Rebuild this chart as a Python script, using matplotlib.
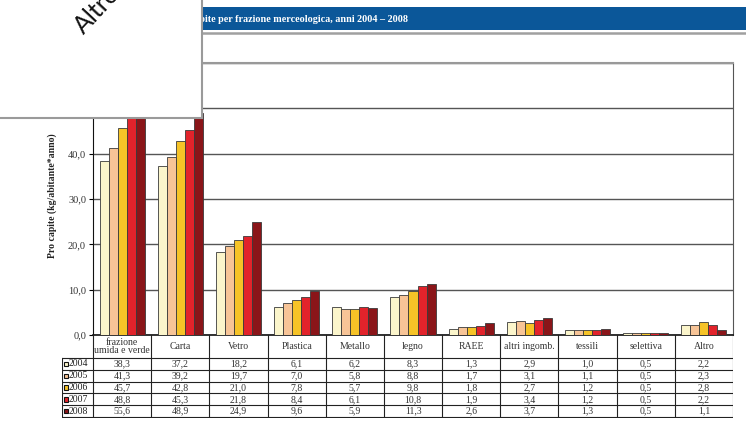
import numpy as np
import matplotlib
matplotlib.use("Agg")
import matplotlib.pyplot as plt
from matplotlib.patches import Rectangle
from matplotlib.ticker import FuncFormatter

# data (kg/abitante*anno)
categorie = ["frazione\numida e verde", "Carta", "Vetro", "Plastica", "Metallo", "legno",
             "RAEE", "altri ingomb.", "tessili", "selettiva", "Altro"]
anni = ["2004", "2005", "2006", "2007", "2008"]
v2004 = [38.3, 37.2, 18.2, 6.1, 6.2, 8.3, 1.3, 2.9, 1.0, 0.5, 2.2]
v2005 = [41.3, 39.2, 19.7, 7.0, 5.8, 8.8, 1.7, 3.1, 1.1, 0.5, 2.3]
v2006 = [45.7, 42.8, 21.0, 7.8, 5.7, 9.8, 1.8, 2.7, 1.2, 0.5, 2.8]
v2007 = [48.8, 45.3, 21.8, 8.4, 6.1, 10.8, 1.9, 3.4, 1.2, 0.5, 2.2]
v2008 = [55.6, 48.9, 24.9, 9.6, 5.9, 11.3, 2.6, 3.7, 1.3, 0.5, 1.1]
serie = [v2004, v2005, v2006, v2007, v2008]
colori = ["#fbf5cb", "#f7c497", "#f6c327", "#e2232b", "#8a1519"]

W, H = 746, 430
serif = "Liberation Serif"

def fx(px):
    return px / W

def fy(py):
    return 1 - py / H

fig = plt.figure(figsize=(W / 100, H / 100), dpi=100)

# main bar chart
ax = fig.add_axes([fx(93), fy(335), (733 - 93) / W, (335 - 63) / H])
x = np.arange(len(categorie))
bw = 0.155
for j, vals in enumerate(serie):
    ax.bar(x + (j - 2) * bw, vals, width=bw, color=colori[j],
           edgecolor="#3a3a3a", linewidth=0.6, zorder=3)

ax.set_xlim(-0.5, len(categorie) - 0.5)
ax.set_ylim(0, 60)
ax.set_yticks(np.arange(0, 61, 10))
ax.yaxis.set_major_formatter(FuncFormatter(lambda v, p: f"{v:.1f}".replace(".", ",")))
ax.set_xticks([])
ax.tick_params(axis="y", length=3, width=0.8, pad=2, labelsize=7.5, labelcolor="#333333")
for lbl in ax.get_yticklabels():
    lbl.set_fontfamily(serif)
ax.yaxis.grid(True, color="#555555", linewidth=1.0, zorder=0)
ax.spines["left"].set_color("#111111")
ax.spines["bottom"].set_color("#111111")
ax.spines["bottom"].set_linewidth(1.2)
ax.spines["top"].set_color("#999999")
ax.spines["top"].set_linewidth(1.5)
ax.spines["right"].set_color("#555555")

fig.text(fx(52), fy(196), "Pro capite (kg/abitante*anno)", rotation=90,
         ha="center", va="center", fontsize=7, fontweight="bold",
         family=serif, color="#222222")

# data table under the chart
row_top = 23
row_h = 11.8
tab = fig.add_axes([fx(62), fy(418), (733 - 62) / W, (418 - 335) / H])
left_edge = -0.5 - 31 / 58.18
tab.set_xlim(left_edge, len(categorie) - 0.5)
tab.set_ylim(83, 0)
tab.axis("off")
line_kw = dict(color="#222222", linewidth=0.8)
bottom = row_top + row_h * len(anni)
tab.plot([left_edge, left_edge], [row_top, bottom], **line_kw)
for b in np.arange(-0.5, len(categorie), 1.0):
    tab.plot([b, b], [0, bottom], **line_kw)
for k in range(len(anni) + 1):
    yy = row_top + k * row_h
    tab.plot([left_edge, len(categorie) - 0.5], [yy, yy], **line_kw)

for i, cat in enumerate(categorie):
    tab.text(i, row_top / 2, cat, ha="center", va="center", fontsize=7,
             family=serif, color="#333333", linespacing=0.85)
for j, vals in enumerate(serie):
    yc = row_top + (j + 0.5) * row_h
    for i, v in enumerate(vals):
        tab.text(i, yc, f"{v:.1f}".replace(".", ","), ha="center", va="center",
                 fontsize=7, family=serif, color="#333333")
    tab.add_patch(Rectangle((left_edge + 0.03, yc - 2.2), 0.08, 4.4,
                            facecolor=colori[j], edgecolor="#111111", linewidth=0.8))
    tab.text(left_edge + 0.12, yc, anni[j], ha="left", va="center",
             fontsize=7, family=serif, color="#222222")

# title bar
fig.add_artist(Rectangle((0, fy(30)), 1, (30 - 7) / H, transform=fig.transFigure,
                         facecolor="#0b5799", edgecolor="none", zorder=1))
fig.add_artist(plt.Line2D([0, 1], [fy(32.5), fy(32.5)], transform=fig.transFigure,
                          color="#a0a0a0", linewidth=1.8, zorder=1))
fig.text(fx(408), fy(19), "Raccolta differenziata pro capite per frazione merceologica, anni 2004 \u2013 2008",
         ha="right", va="center", fontsize=7.3, fontweight="bold", family=serif,
         color="white", zorder=2)

# white box pasted over the top-left corner
fig.add_artist(Rectangle((fx(-3), fy(118)), fx(205), 118 / H + 0.02, transform=fig.transFigure,
                         facecolor="white", edgecolor="#9a9a9a", linewidth=1.5, zorder=10))
fig.text(fx(84), fy(35), "Altro", rotation=47, rotation_mode="anchor",
         ha="left", va="baseline", fontsize=18, family="Lato", color="#111111", zorder=11)

fig.savefig("out.png", dpi=100)
